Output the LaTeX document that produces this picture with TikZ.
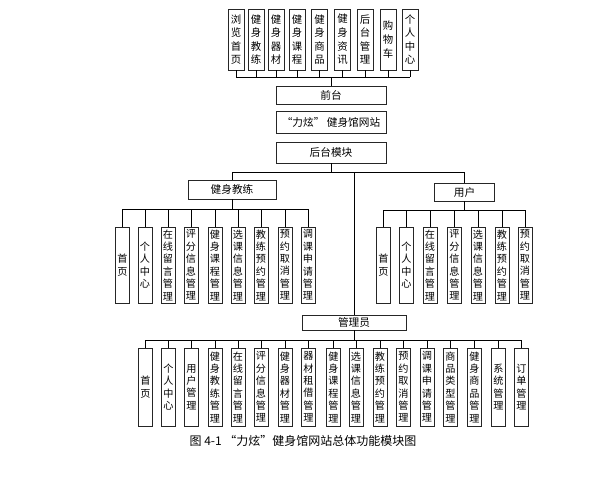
\documentclass[tikz,border=0pt]{standalone}
\usepackage{fontspec}
\setmainfont{Noto Sans CJK SC}
\begin{document}
\begin{tikzpicture}[x=0.75pt,y=-0.75pt,
  box/.style={draw=black!85, line width=0.6pt, inner sep=0pt, align=center, fill=white},
  topbox/.style={box, minimum width=12pt, minimum height=45.75pt, font=\fontsize{7.8}{10.2}\selectfont},
  leafbox/.style={box, minimum width=10.5pt, minimum height=57pt, font=\fontsize{7.6}{9.3}\selectfont},
  leafboxb/.style={box, minimum width=10.5pt, minimum height=58.5pt, font=\fontsize{7.6}{9.3}\selectfont},
  mainbox/.style={box, font=\fontsize{8}{9}\selectfont},
  conn/.style={line width=0.6pt, black}]
\useasboundingbox (0,0) rectangle (610,500);

% bus coordinates
\coordinate (bt) at (0,77);
\coordinate (b2) at (0,172);
\coordinate (bc) at (0,209);
\coordinate (bu) at (0,210);
\coordinate (ba) at (0,340);

% top boxes
\foreach \n/\x/\t in {t1/236/{浏\\览\\首\\页}, t2/256/{健\\身\\教\\练}, t3/276/{健\\身\\器\\材},
  t4/297/{健\\身\\课\\程}, t5/319.5/{健\\身\\商\\品}, t6/342.5/{健\\身\\资\\讯},
  t7/365/{后\\台\\管\\理}, t8/388/{购\\物\\车}, t9/410/{个\\人\\中\\心}}{
  \node[topbox] (\n) at (\x,39.5) {\t};
  \draw[conn] (\n.south) -- (\n.south |- bt);
}
\draw[conn] (t1.south |- bt) -- (t9.south |- bt);

% main chain
\node[mainbox, minimum width=82.5pt, minimum height=13.5pt] (qt) at (331,95) {前台};
\node[mainbox, minimum width=82.5pt, minimum height=16.5pt] (web) at (331,122) {“力炫” 健身馆网站};
\node[mainbox, minimum width=82.5pt, minimum height=15.75pt] (ht) at (331,152.5) {后台模块};
\draw[conn] (qt.north) -- (qt.north |- bt);

\node[mainbox, minimum width=66pt, minimum height=14.25pt] (coach) at (232,189.5) {健身教练};
\node[mainbox, minimum width=45pt, minimum height=13.5pt] (user) at (464.5,192) {用户};
\node[mainbox, minimum width=78pt, minimum height=11.25pt] (admin) at (354,322.5) {管理员};

\draw[conn] (ht.south) -- (ht.south |- b2);
\draw[conn] (coach.north |- b2) -- (user.north |- b2);
\draw[conn] (coach.north) -- (coach.north |- b2);
\draw[conn] (user.north) -- (user.north |- b2);
\draw[conn] (admin.north) -- (admin.north |- b2);

% coach leaves
\foreach \n/\x/\t in {c1/122.5/{首\\页}, c2/145/{个\\人\\中\\心}, c3/168/{在\\线\\留\\言\\管\\理},
  c4/191/{评\\分\\信\\息\\管\\理}, c5/215/{健\\身\\课\\程\\管\\理}, c6/238/{选\\课\\信\\息\\管\\理},
  c7/261/{教\\练\\预\\约\\管\\理}, c8/285/{预\\约\\取\\消\\管\\理}, c9/308/{调\\课\\申\\请\\管\\理}}{
  \node[leafbox] (\n) at (\x,265) {\t};
  \draw[conn] (\n.north) -- (\n.north |- bc);
}
\draw[conn] (c1.north |- bc) -- (c9.north |- bc);
\draw[conn] (coach.south) -- (coach.south |- bc);

% user leaves
\foreach \n/\x/\t in {u1/383.5/{首\\页}, u2/406.5/{个\\人\\中\\心}, u3/430/{在\\线\\留\\言\\管\\理},
  u4/454.5/{评\\分\\信\\息\\管\\理}, u5/478/{选\\课\\信\\息\\管\\理}, u6/502/{教\\练\\预\\约\\管\\理},
  u7/525/{预\\约\\取\\消\\管\\理}}{
  \node[leafbox] (\n) at (\x,265) {\t};
  \draw[conn] (\n.north) -- (\n.north |- bu);
}
\draw[conn] (u1.north |- bu) -- (u7.north |- bu);
\draw[conn] (user.south) -- (user.south |- bu);

% admin leaves
\foreach \n/\x/\t in {a1/145.5/{首\\页}, a2/168.5/{个\\人\\中\\心}, a3/191.5/{用\\户\\管\\理},
  a4/215/{健\\身\\教\\练\\管\\理}, a5/238/{在\\线\\留\\言\\管\\理}, a6/261/{评\\分\\信\\息\\管\\理},
  a7/285/{健\\身\\器\\材\\管\\理}, a8/308.5/{器\\材\\租\\借\\管\\理}, a9/333.5/{健\\身\\课\\程\\管\\理},
  a10/356/{选\\课\\信\\息\\管\\理}, a11/380/{教\\练\\预\\约\\管\\理}, a12/403.5/{预\\约\\取\\消\\管\\理},
  a13/427/{调\\课\\申\\请\\管\\理}, a14/450.5/{商\\品\\类\\型\\管\\理}, a15/474.5/{健\\身\\商\\品\\管\\理},
  a16/498.5/{系\\统\\管\\理}, a17/521.5/{订\\单\\管\\理}}{
  \node[leafboxb] (\n) at (\x,387) {\t};
  \draw[conn] (\n.north) -- (\n.north |- ba);
}
\draw[conn] (a1.north |- ba) -- (a17.north |- ba);
\draw[conn] (admin.south) -- (admin.south |- ba);

% caption
\node[font=\fontsize{9}{10}\selectfont, inner sep=0pt] (cap) at (303,441) {图 4-1 “力炫”健身馆网站总体功能模块图};
\end{tikzpicture}
\end{document}
